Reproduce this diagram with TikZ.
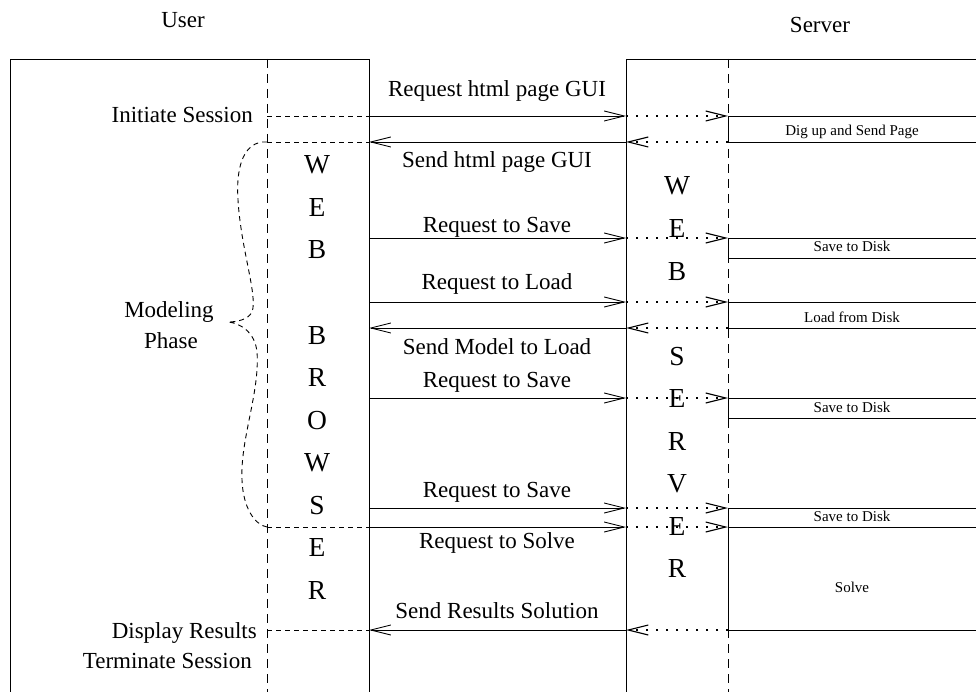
\documentclass[tikz,border=0pt]{standalone}
\usepackage{fontspec}
\setmainfont{Liberation Serif}
\usetikzlibrary{arrows.meta}
\begin{document}
\begin{tikzpicture}[x=1pt,y=-1pt,
  frame/.style={line width=0.9pt},
  lifeline/.style={line width=0.9pt, dash pattern=on 9pt off 6pt},
  link/.style={line width=0.9pt, dash pattern=on 5pt off 4pt},
  msg/.style={line width=0.9pt, -{Straight Barb[length=20pt,width=10pt]}},
  relay/.style={msg, line width=1.1pt, dash pattern=on 1.6pt off 8.4pt},
  bar/.style={line width=0.9pt},
  lbl/.style={font=\fontsize{23}{23}\selectfont, anchor=base, inner sep=0pt},
  note/.style={font=\fontsize{15}{15}\selectfont, anchor=base, inner sep=0pt},
  tall/.style={font=\fontsize{27.5}{27.5}\selectfont, anchor=base, inner sep=0pt},
]
\useasboundingbox (0,0) rectangle (976,692);

% column positions
\coordinate (uL) at (267,0);  % browser lifeline
\coordinate (bR) at (369,0);  % browser box edge
\coordinate (sL) at (626,0);  % server box edge
\coordinate (sD) at (728,0);  % server lifeline
\coordinate (eR) at (976,0);  % right margin

% message rows
\coordinate (m1) at (0,116);
\coordinate (m2) at (0,142);
\coordinate (m3) at (0,238);
\coordinate (m3b) at (0,258);
\coordinate (m4) at (0,302);
\coordinate (m5) at (0,328);
\coordinate (m6) at (0,398);
\coordinate (m6b) at (0,418);
\coordinate (m7) at (0,508);
\coordinate (m8) at (0,527);
\coordinate (m9) at (0,630);

% headings
\node[lbl] (user) at (183,28) {User};
\node[lbl] (server) at (820,33) {Server};

% the two boxes, open at the bottom / right
\draw[frame] (10,692) -- (10,59) -- (369,59) -- (369,692);
\draw[frame] (976,59) -- (626,59) -- (626,692);

% lifelines
\draw[lifeline] (267,59) -- (267,692);
\draw[lifeline] (728,59) -- (728,692);

% server activation bars
\foreach \a/\b in {m1/m2, m3/m3b, m4/m5, m6/m6b, m7/m8, m8/m9}
  \draw[bar] (eR |- \a) -- (sD |- \a) -- (sD |- \b) -- (eR |- \b);

% requests: browser -> server
\foreach \r in {m1, m3, m4, m6, m7, m8} {
  \draw[msg] (bR |- \r) -- (sL |- \r);
  \draw[relay] (sL |- \r) -- (sD |- \r);
}
% replies: server -> browser
\foreach \r in {m2, m5, m9} {
  \draw[relay] (sD |- \r) -- (sL |- \r);
  \draw[msg] (sL |- \r) -- (bR |- \r);
}

% user side links to the browser
\foreach \r in {m1, m2, m8, m9}
  \draw[link] (uL |- \r) -- (bR |- \r);

% brace around the modeling phase
\draw[link] (uL |- m2) -- (262,142)
  .. controls (242,145) and (236,170) .. (238,200)
  .. controls (241,250) and (258,296) .. (252,312)
  .. controls (248,320) and (236,322) .. (228,322)
  .. controls (240,323) and (255,332) .. (257,352)
  .. controls (260,392) and (240,440) .. (242,480)
  .. controls (243,508) and (255,525) .. (uL |- m8);

% user actions
\node[lbl, anchor=base east] (init) at (253,123) {Initiate Session};
\node[lbl] (model) at (169,317) {Modeling};
\node[lbl] (phase) at (171,348) {Phase};
\node[lbl, anchor=base east] (disp) at (257,638) {Display Results};
\node[lbl, anchor=base east] (term) at (252,668) {Terminate Session};

% message labels
\node[lbl] (t1) at (497,97) {Request html page GUI};
\node[lbl] (t2) at (497,168) {Send html page GUI};
\node[lbl] (t3) at (497,233) {Request to Save};
\node[lbl] (t4) at (497,290) {Request to Load};
\node[lbl] (t5) at (497,354) {Send Model to Load};
\node[lbl] (t6) at (497,387) {Request to Save};
\node[lbl] (t7) at (497,497) {Request to Save};
\node[lbl] (t8) at (497,548) {Request to Solve};
\node[lbl] (t9) at (497,618) {Send Results Solution};

% server work
\node[note] (w1) at (852,136) {Dig up and Send Page};
\node[note] (w2) at (852,252) {Save to Disk};
\node[note] (w3) at (852,322) {Load from Disk};
\node[note] (w4) at (852,412) {Save to Disk};
\node[note] (w5) at (852,521) {Save to Disk};
\node[note] (w6) at (852,592) {Solve};

% vertical captions
\foreach \ch/\yy [count=\i] in {W/174, E/216.5, B/259, B/344, R/386.5, O/429, W/471.5, S/514, E/556.5, R/599}
  \node[tall, name=wb\i] at (317,\yy) {\ch};
\foreach \ch/\yy [count=\i] in {W/195, E/237.5, B/280, S/365, E/407.5, R/450, V/492.5, E/535, R/577.5}
  \node[tall, name=ws\i] at (677,\yy) {\ch};
\end{tikzpicture}
\end{document}
